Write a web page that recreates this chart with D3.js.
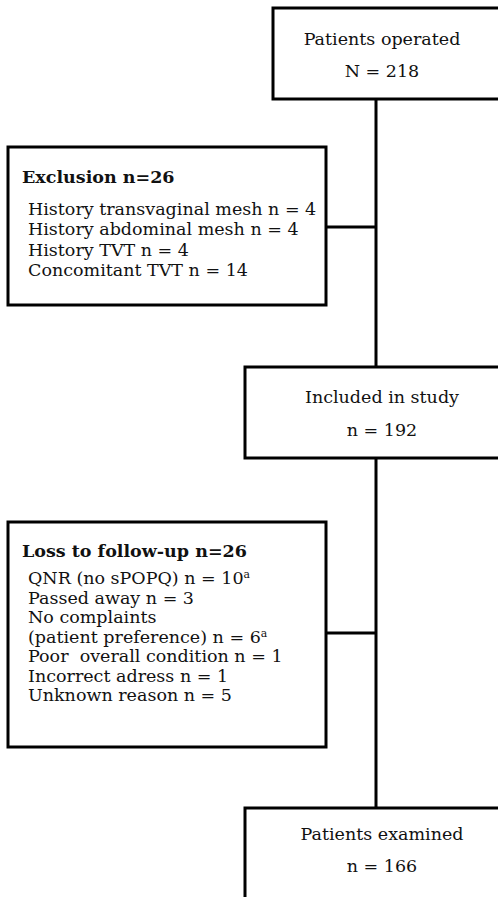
<!DOCTYPE html>
<html><head><meta charset="utf-8">
<script src="https://cdn.jsdelivr.net/npm/d3@7"></script>
<style>body{margin:0;background:#fff}svg{display:block}</style>
</head><body>
<script>
// ---- data ----
const mainTitles = ["Patients operated", "Included in study", "Patients examined"];
const mainCounts = ["N = 218", "n = 192", "n = 166"];
const sideTitles = ["Exclusion n=26", "Loss to follow-up n=26"];
const exclusionItems = [
  ["History transvaginal mesh n = 4", ""],
  ["History abdominal mesh n = 4", ""],
  ["History TVT n = 4", ""],
  ["Concomitant TVT n = 14", ""]
];
const lossItems = [
  ["QNR (no sPOPQ) n = 10", "a"],
  ["Passed away n = 3", ""],
  ["No complaints", ""],
  ["(patient preference) n = 6", "a"],
  ["Poor  overall condition n = 1", ""],
  ["Incorrect adress n = 1", ""],
  ["Unknown reason n = 5", ""]
];

// ---- layout ----
const W = 498, H = 897;
const x = d3.scaleLinear().domain([0, 1]).range([0, W]);
const font = "'DejaVu Serif', serif";
const fs = 17.5;
const lw = 3;

const mainBoxes = [
  {x0: 273, y0: 8, y1: 99, t1: 45, t2: 77},
  {x0: 245, y0: 367, y1: 458, t1: 403, t2: 436},
  {x0: 245, y0: 808, y1: 910, t1: 840, t2: 872}
];
const spineX = 376, textCX = 382;
const sideBoxes = [
  {x0: 8, y0: 147, x1: 326, y1: 305, title: 183, first: 215, step: 20.3, link: 227, items: exclusionItems},
  {x0: 8, y0: 522, x1: 326, y1: 747, title: 557, first: 584, step: 19.5, link: 633, items: lossItems}
];

const svg = d3.select("body").append("svg").attr("width", W).attr("height", H)
  .style("font-family", font);

// spine
svg.append("line").attr("x1", spineX).attr("x2", spineX)
  .attr("y1", mainBoxes[0].y1).attr("y2", H + 5)
  .attr("stroke", "#000").attr("stroke-width", lw);

// connectors
svg.selectAll("line.link").data(sideBoxes).join("line").attr("class", "link")
  .attr("x1", d => d.x1).attr("x2", spineX)
  .attr("y1", d => d.link).attr("y2", d => d.link)
  .attr("stroke", "#000").attr("stroke-width", lw);

// main boxes
const mg = svg.selectAll("g.main").data(mainBoxes).join("g").attr("class", "main");
mg.append("rect")
  .attr("x", d => d.x0).attr("y", d => d.y0)
  .attr("width", d => x(1) + 60 - d.x0).attr("height", d => d.y1 - d.y0)
  .attr("fill", "#fff").attr("stroke", "#000").attr("stroke-width", lw);
mg.append("text").attr("x", textCX).attr("y", d => d.t1)
  .attr("text-anchor", "middle").attr("font-size", fs).attr("fill", "#111")
  .text((d, i) => mainTitles[i]);
mg.append("text").attr("x", textCX).attr("y", d => d.t2)
  .attr("text-anchor", "middle").attr("font-size", fs).attr("fill", "#111")
  .text((d, i) => mainCounts[i]);

// side boxes
const sg = svg.selectAll("g.side").data(sideBoxes).join("g").attr("class", "side");
sg.append("rect")
  .attr("x", d => d.x0).attr("y", d => d.y0)
  .attr("width", d => d.x1 - d.x0).attr("height", d => d.y1 - d.y0)
  .attr("fill", "#fff").attr("stroke", "#000").attr("stroke-width", lw);
sg.append("text").attr("x", d => d.x0 + 14).attr("y", d => d.title)
  .attr("font-size", fs).attr("font-weight", "bold").attr("fill", "#111")
  .text((d, i) => sideTitles[i]);
sg.each(function(d) {
  const t = d3.select(this).selectAll("text.item").data(d.items).join("text")
    .attr("class", "item")
    .attr("x", d.x0 + 20).attr("y", (e, j) => d.first + j * d.step)
    .attr("font-size", fs).attr("fill", "#111").attr("xml:space", "preserve")
    .style("white-space", "pre");
  t.append("tspan").text(e => e[0]);
  t.filter(e => e[1]).append("tspan").attr("font-size", fs * 0.62)
    .attr("dy", -6).text(e => e[1]);
});
</script>
</body></html>
